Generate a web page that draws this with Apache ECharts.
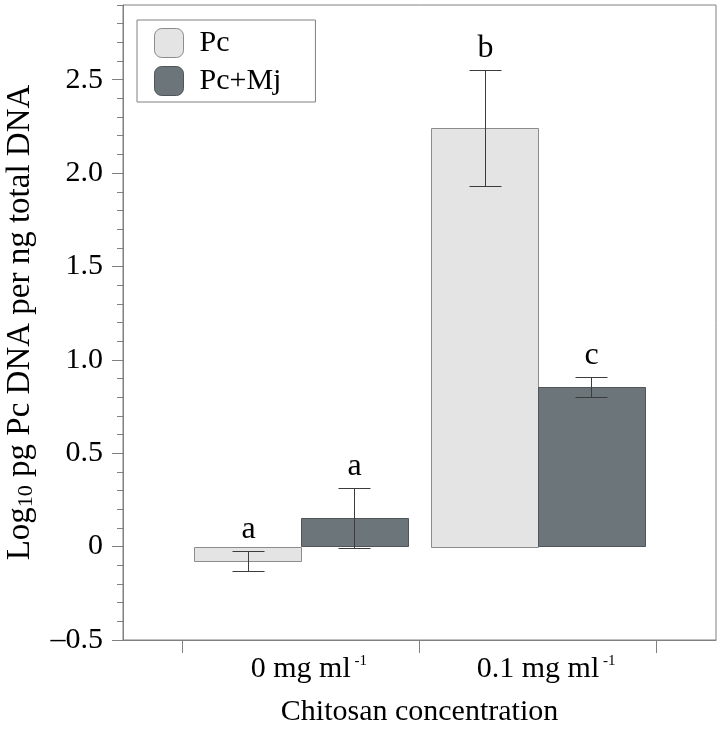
<!DOCTYPE html>
<html>
<head>
<meta charset="utf-8">
<script src="https://cdn.jsdelivr.net/npm/echarts@6/dist/echarts.min.js"></script>
<style>
html,body{margin:0;padding:0;background:#fff;}
#chart{width:722px;height:731px;}
</style>
</head>
<body>
<div id="chart"></div>
<script>
// ---- data ----
const categories = ['0 mg ml', '0.1 mg ml'];
const seriesNames = ['Pc', 'Pc+Mj'];
const pcMeans = [-0.077, 2.242];
const pcErr = [0.053, 0.312];
const pcmjMeans = [0.152, 0.854];
const pcmjErr = [0.161, 0.055];
const pcLetters = ['a', 'b'];
const pcmjLetters = ['a', 'c'];
const yMin = -0.5, yMax = 2.9, yStep = 0.5, yMinorStep = 0.1;

// ---- style ----
const FONT = 'Liberation Serif, Times New Roman, serif';
const AXIS = '#808080';
const PC_FILL = '#e4e4e4', PC_STROKE = '#8c8c8c';
const MJ_FILL = '#6c757a', MJ_STROKE = '#4f5558';
const ERR = '#3c3c3c';
const BAR_HALF = 0.45;   // bar width, in category spacing units
const CAP = 16;          // half cap width, px

const chart = echarts.init(document.getElementById('chart'), null, {renderer: 'canvas'});

function barRenderer(side, stroke) {
  return function (params, api) {
    const x = api.value(0), v = api.value(1);
    const xa = side < 0 ? x - BAR_HALF : x;
    const xb = side < 0 ? x : x + BAR_HALF;
    const p0 = api.coord([xa, v]);
    const p1 = api.coord([xb, 0]);
    return {
      type: 'rect',
      shape: {
        x: Math.round(Math.min(p0[0], p1[0])) + 0.5,
        y: Math.round(Math.min(p0[1], p1[1])) + 0.5,
        width: Math.round(Math.abs(p1[0] - p0[0])),
        height: Math.round(Math.abs(p1[1] - p0[1]))
      },
      style: {fill: api.visual('color'), stroke: stroke, lineWidth: 1}
    };
  };
}

function errRenderer(side, letters) {
  return function (params, api) {
    const x = api.value(0) + side * BAR_HALF / 2;
    const m = api.value(1), e = api.value(2);
    const top = api.coord([x, m + e]);
    const bot = api.coord([x, m - e]);
    const cx = Math.round(top[0]) + 0.5;
    const ty = Math.round(top[1]) + 0.5, by = Math.round(bot[1]) + 0.5;
    const ls = {stroke: ERR, lineWidth: 1};
    return {
      type: 'group',
      children: [
        {type: 'line', shape: {x1: cx, y1: ty, x2: cx, y2: by}, style: ls},
        {type: 'line', shape: {x1: cx - CAP, y1: ty, x2: cx + CAP, y2: ty}, style: ls},
        {type: 'line', shape: {x1: cx - CAP, y1: by, x2: cx + CAP, y2: by}, style: ls},
        {type: 'text', x: cx, y: ty - 6,
         style: {text: letters[params.dataIndex], fill: '#000', font: '32px ' + FONT,
                 align: 'center', verticalAlign: 'bottom'}}
      ]
    };
  };
}

const pcData = categories.map((c, i) => [i + 1, pcMeans[i], pcErr[i]]);
const mjData = categories.map((c, i) => [i + 1, pcmjMeans[i], pcmjErr[i]]);

function fmtY(v) {
  if (Math.abs(v) < 1e-9) return '0';
  if (v < 0) return '\u2013' + Math.abs(v).toFixed(1);
  return v.toFixed(1);
}

const option = {
  animation: false,
  backgroundColor: '#fff',
  textStyle: {fontFamily: FONT},
  grid: {left: 123, right: 6, top: 5, bottom: 91, show: true, borderColor: AXIS, borderWidth: 1,
         containLabel: false, outerBoundsMode: 'none'},
  legend: {
    orient: 'vertical', left: 137, top: 20,
    padding: [8, 34, 6, 17],
    borderColor: AXIS, borderWidth: 1,
    itemWidth: 29, itemHeight: 29, itemGap: 8,
    textStyle: {fontFamily: FONT, fontSize: 30, color: '#000', padding: [0, 0, 0, 11]},
    data: [
      {name: seriesNames[0], icon: 'roundRect', itemStyle: {color: PC_FILL, borderColor: PC_STROKE, borderWidth: 1}},
      {name: seriesNames[1], icon: 'roundRect', itemStyle: {color: MJ_FILL, borderColor: MJ_STROKE, borderWidth: 1}}
    ]
  },
  xAxis: {
    type: 'value', min: 0.25, max: 2.75,
    name: 'Chitosan concentration', nameLocation: 'middle', nameGap: 57,
    nameTextStyle: {fontFamily: FONT, fontSize: 30, color: '#000'},
    axisLine: {show: true, onZero: false, lineStyle: {color: AXIS}},
    axisTick: {show: true, inside: false, length: 13, lineStyle: {color: AXIS}, customValues: [0.5, 1.5, 2.5]},
    axisLabel: {
      show: true, margin: 14, customValues: [1, 2],
      padding: [0, 0, 0, 16],
      formatter: v => categories[Math.round(v) - 1] + '{sup| -1}',
      fontFamily: FONT, fontSize: 30, color: '#000',
      rich: {sup: {fontFamily: FONT, fontSize: 15, color: '#000', verticalAlign: 'top', lineHeight: 15}}
    },
    splitLine: {show: false}
  },
  yAxis: [
    {
      type: 'value', min: yMin, max: yMax, interval: yStep,
      name: 'Log{sub|10} pg Pc DNA per ng total DNA', nameLocation: 'middle', nameRotate: 90, nameGap: 86,
      nameTextStyle: {fontFamily: FONT, fontSize: 33, color: '#000', padding: [0, 0, 0, 0],
        rich: {sub: {fontFamily: FONT, fontSize: 22, color: '#000', verticalAlign: 'bottom', padding: [12, 0, 0, 0]}}},
      axisLine: {show: true, onZero: false, lineStyle: {color: AXIS}},
      axisTick: {show: true, inside: false, length: 11, lineStyle: {color: AXIS}},
      axisLabel: {margin: 20, formatter: fmtY, fontFamily: FONT, fontSize: 30, color: '#000', showMaxLabel: false},
      splitLine: {show: false}
    },
    {
      type: 'value', min: yMin, max: yMax, interval: yMinorStep, position: 'left',
      axisLine: {show: false, onZero: false},
      axisTick: {show: true, inside: false, length: 6, lineStyle: {color: AXIS}},
      axisLabel: {show: false},
      splitLine: {show: false}
    }
  ],
  series: [
    {name: seriesNames[0], type: 'custom', coordinateSystem: 'cartesian2d', xAxisIndex: 0, yAxisIndex: 0,
     itemStyle: {color: PC_FILL}, encode: {x: 0, y: 1}, data: pcData, renderItem: barRenderer(-1, PC_STROKE), z: 2},
    {name: seriesNames[1], type: 'custom', coordinateSystem: 'cartesian2d', xAxisIndex: 0, yAxisIndex: 0,
     itemStyle: {color: MJ_FILL}, encode: {x: 0, y: 1}, data: mjData, renderItem: barRenderer(1, MJ_STROKE), z: 2},
    {name: seriesNames[0] + ' err', type: 'custom', coordinateSystem: 'cartesian2d', xAxisIndex: 0, yAxisIndex: 0,
     encode: {x: 0, y: 1}, data: pcData, renderItem: errRenderer(-1, pcLetters), z: 3, silent: true},
    {name: seriesNames[1] + ' err', type: 'custom', coordinateSystem: 'cartesian2d', xAxisIndex: 0, yAxisIndex: 0,
     encode: {x: 0, y: 1}, data: mjData, renderItem: errRenderer(1, pcmjLetters), z: 3, silent: true}
  ]
};
chart.setOption(option);
</script>
</body>
</html>
